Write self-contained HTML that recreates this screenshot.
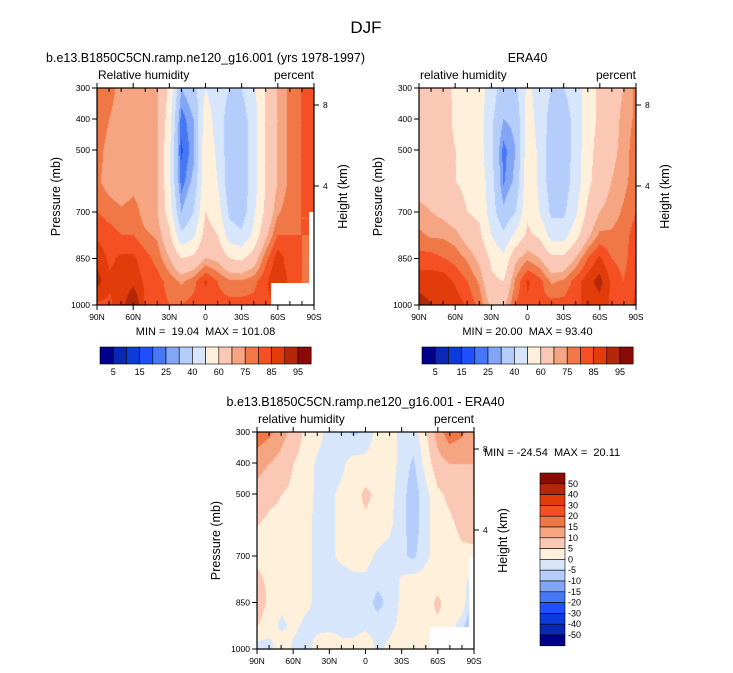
<!DOCTYPE html>
<html><head><meta charset="utf-8"><style>
body{margin:0;background:#fff;width:733px;height:673px;overflow:hidden;font-family:"Liberation Sans",sans-serif}
svg{position:absolute;left:0;top:0}
svg text{white-space:pre}
canvas{position:absolute}
</style></head><body>
<canvas id="c1" width="217" height="217" style="left:97px;top:88px"></canvas>
<canvas id="c2" width="217" height="217" style="left:419px;top:88px"></canvas>
<canvas id="c3" width="217" height="218" style="left:257px;top:432px"></canvas>
<svg id="s" width="733" height="673"></svg>
<script>
const lats=[90,80,70,60,50,40,30,20,10,0,-10,-20,-30,-40,-50,-60,-70,-80,-90];
const pres=[300,400,500,600,700,775,850,925,1000];
const model=[
[80,77,73,72,72,70,58,30,36,50,44,40,40,48,60,70,76,80,84],
[80,75,72,72,72,70,55,22,30,56,45,36,35,45,60,70,76,80,84],
[78,72,70,72,72,70,52,19,28,58,48,34,34,45,60,70,76,80,84],
[76,72,70,72,72,70,52,22,32,58,50,34,33,45,60,70,76,80,82],
[80,78,76,78,72,70,55,30,40,60,55,38,34,48,62,74,78,80,80],
[84,82,80,80,76,74,62,42,48,64,60,45,42,52,68,80,80,80,80],
[88,84,86,86,82,78,70,60,62,70,68,60,58,65,78,88,82,80,72],
[92,86,86,88,84,82,78,74,78,86,80,76,76,78,84,90,84,80,75],
[84,84,88,96,84,82,80,80,82,82,82,82,82,82,84,85,85,85,85]];
const era=[
[66,66,64,58,55,55,45,35,38,52,46,40,40,45,55,62,66,70,76],
[66,66,64,58,55,54,42,30,32,55,46,36,34,44,55,62,66,72,76],
[66,66,64,60,56,54,42,23,30,56,48,34,34,44,56,64,68,72,78],
[66,66,64,60,58,56,44,24,32,58,48,34,35,44,57,66,70,73,78],
[72,70,68,64,60,58,45,32,40,58,50,38,38,48,62,70,72,76,80],
[76,74,74,72,66,62,50,42,52,62,58,46,46,56,68,76,76,78,82],
[82,82,80,78,74,68,58,52,68,74,70,62,62,70,80,86,80,78,84],
[88,88,88,84,80,74,62,60,76,86,82,74,76,82,88,92,84,80,85],
[92,90,90,88,84,78,68,68,80,84,82,82,82,84,86,88,84,82,86]];
const diff=[
[18,16,12,8,4,2,-2,-2,-6,-4,2,3,-2,-2,4,12,18,16,12],
[12,10,8,5,3,-1,-2,-1,2,2,3,3,-2,-6,2,8,10,10,10],
[8,6,5,4,2,-1,-1,1,3,6,4,2,-3,-8,-2,4,6,8,10],
[5,4,4,3,1,-1,-1,1,3,4,3,1,-3,-8,-2,3,4,6,8],
[4,3,3,2,1,-1,-1,1,2,2,-1,-2,-4,-6,-1,2,3,4,3],
[6,4,2,3,1,-1,-2,-2,-1,-1,-3,-4,1,2,2,3,3,2,-2],
[8,4,1,2,1,-1,-2,-3,-2,-2,-7,-3,1,2,3,6,3,4,-8],
[5,2,-1,1,-1,-1,-1,-1,-2,-1,-2,-1,1,1,3,4,3,-3,-12],
[-3,-2,4,-1,-2,2,3,1,2,4,-1,1,3,2,2,3,3,1,0]];
const rhLevels=[5,10,15,20,25,30,40,50,60,70,75,80,85,90,95];
const rhLabels=["5","15","25","40","60","75","85","95"];
const dLevels=[-50,-40,-30,-20,-15,-10,-5,0,5,10,15,20,30,40,50];
const latLabels=["90N","60N","30N","0","30S","60S","90S"];
const presLabels=[300,400,500,700,850,1000];
const colors=["#00008a","#0a28b4","#0a3cdc","#1e50ff","#4678f5","#82a5f5","#b4cdfa","#d7e6fa","#fff0dc","#fac8b4","#f5a582","#f07846","#f55023","#e13c0a","#b4280a","#8c0a05"];
function hex(c){return [parseInt(c.substr(1,2),16),parseInt(c.substr(3,2),16),parseInt(c.substr(5,2),16)]}
const rgb=colors.map(hex);
function interp(grid,lat,p){
  let i=0;while(i<lats.length-2&&lat<lats[i+1])i++;
  let j=0;while(j<pres.length-2&&p>pres[j+1])j++;
  const fx=(lats[i]-lat)/(lats[i]-lats[i+1]),fy=(p-pres[j])/(pres[j+1]-pres[j]);
  const a=grid[j][i],b=grid[j][i+1],c=grid[j+1][i],d=grid[j+1][i+1];
  return a*(1-fx)*(1-fy)+b*fx*(1-fy)+c*(1-fx)*fy+d*fx*fy;
}
function draw(id,grid,levels){
  const cv=document.getElementById(id),ctx=cv.getContext('2d'),W=cv.width,H=cv.height;
  const img=ctx.createImageData(W,H);
  for(let y=0;y<H;y++)for(let x=0;x<W;x++){
    const lat=90-180*x/(W-1),p=300+700*y/(H-1);
    const v=interp(grid,lat,p);let k=0;while(k<levels.length&&v>=levels[k])k++;
    const c=rgb[k],o=(y*W+x)*4;img.data[o]=c[0];img.data[o+1]=c[1];img.data[o+2]=c[2];img.data[o+3]=255;
  }
  ctx.putImageData(img,0,0);
}
draw('c1',model,rhLevels);draw('c2',era,rhLevels);draw('c3',diff,dLevels);
const S=document.getElementById('s');const NS='http://www.w3.org/2000/svg';
function el(t,a,txt){const e=document.createElementNS(NS,t);for(const k in a)e.setAttribute(k,a[k]);if(txt!==undefined)e.textContent=txt;S.appendChild(e);return e}
function txt(x,y,s,size,anchor,name,rot){const a={x:x,y:y,'font-size':size,'text-anchor':anchor||'start',fill:'#000'};if(rot)a.transform='rotate(-90 '+x+' '+y+')';const e=el('text',a,s);

return e}
txt(366,33,'DJF',17,'middle','figure-title');
function panel(x0,y0,title,lt,mm,name,missing){
  const W=217,H=217;
  const xs=lat=>x0+(90-lat)/180*W, ys=p=>y0+(p-300)/700*H;
  txt(x0+W/2,y0-26,title,12.5,'middle',name+'-title');
  txt(x0+1,y0-9,lt,12,'start',name+'-left-subtitle');
  txt(x0+W,y0-9,'percent',12,'end',name+'-units');
  if(missing){for(const m of missing){const r=el('rect',{x:m[0],y:m[1],width:m[2],height:m[3],fill:'#fff'});
  
  }}
  const b=el('rect',{x:x0,y:y0,width:W,height:H,fill:'none',stroke:'#000','stroke-width':1.2});
  
  
  for(let l=90;l>=-90;l-=10){const X=xs(l),maj=l%30===0;
    el('line',{x1:X,y1:y0+H,x2:X,y2:y0+H+(maj?5:-4),stroke:'#000'});
    el('line',{x1:X,y1:y0,x2:X,y2:y0+(maj?-5:4),stroke:'#000'});}
  latLabels.forEach((s,i)=>txt(xs(90-30*i),y0+H+15,s,8.5,'middle',name+'-x-tick-label'));
  presLabels.forEach(p=>{el('line',{x1:x0-5,y1:ys(p),x2:x0,y2:ys(p),stroke:'#000'});txt(x0-7,ys(p)+3,String(p),8.5,'end',name+'-y-tick-label')});
  [[8,y0+17],[4,y0+98]].forEach(h=>{el('line',{x1:x0+W,y1:h[1],x2:x0+W+5,y2:h[1],stroke:'#000'});txt(x0+W+9,h[1]+3,String(h[0]),8.5,'start',name+'-height-tick-label')});
  txt(x0-37,y0+H/2,'Pressure (mb)',12.5,'middle',name+'-y-axis-title',true);
  txt(x0+W+33,y0+H/2,'Height (km)',12.5,'middle',name+'-right-axis-title',true);
  if(mm)txt(x0+W/2,y0+H+30,mm,11,'middle',name+'-min-max');
}
panel(97,88,'b.e13.B1850C5CN.ramp.ne120_g16.001 (yrs 1978-1997)','Relative humidity','MIN =  19.04  MAX = 101.08','model',[[271,283,43,22],[309,212,5,72]]);
panel(419,88,'ERA40','relative humidity','MIN = 20.00  MAX = 93.40','era40',null);
panel(257,432,'b.e13.B1850C5CN.ramp.ne120_g16.001 - ERA40','relative humidity',null,'diff',[[430,627,44,23],[469,557,5,70]]);
txt(484,456,'MIN = -24.54  MAX =  20.11',11,'start','diff-min-max');
function hbar(x0,name){const w=13.2;colors.forEach((c,i)=>{const r=el('rect',{x:x0+i*w,y:347,width:w,height:17,fill:c,stroke:'#000','stroke-width':0.6});

});
rhLabels.forEach((s,i)=>txt(x0+w*(1+2*i),375,s,9,'middle',name+'-label'));}
hbar(100,'model-colorbar');hbar(422,'era40-colorbar');
const vh=10.8;colors.slice().reverse().forEach((c,i)=>{const r=el('rect',{x:540,y:473+i*vh,width:25,height:vh,fill:c,stroke:'#000','stroke-width':0.6});

});
dLevels.slice().reverse().forEach((v,i)=>txt(568,473+vh*(i+1)+3,String(v),9,'start','diff-colorbar-label'));
</script></body></html>
